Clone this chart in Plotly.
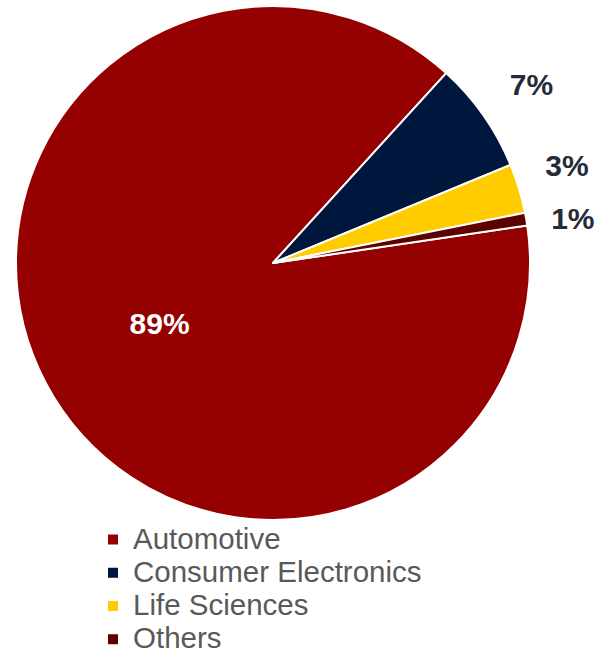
import plotly.graph_objects as go

labels = ["Automotive", "Consumer Electronics", "Life Sciences", "Others"]
values = [89.1, 7.0, 3.1, 0.8]
pct_text = ["89%", "7%", "3%", "1%"]
colors = ["#950000", "#00173D", "#FFCC00", "#5C0000"]

W, H = 598, 655
FONT = "Liberation Sans, Arial, sans-serif"
LABEL_SIZE = 30
LEGEND_SIZE = 29.5
domain = dict(x=[16 / W, 530 / W], y=[1 - 520 / H, 1 - 6 / H])
common = dict(
    values=values,
    sort=False,
    direction="clockwise",
    rotation=81.6,
    domain=domain,
    insidetextorientation="horizontal",
)

fig = go.Figure()

# visible pie with the inside label
fig.add_trace(go.Pie(
    labels=[f'<span style="font-size:{LEGEND_SIZE}px">{l}</span>' for l in labels],
    marker=dict(colors=colors, line=dict(color="white", width=2)),
    text=pct_text,
    textinfo="text",
    textposition=["inside", "none", "none", "none"],
    insidetextfont=dict(family=FONT, size=LABEL_SIZE, color="white", weight="bold"),
    hovertext=labels,
    hoverinfo="text+percent",
    showlegend=True,
    **common,
))

# outside labels, split over transparent overlays so they keep their own spot
nb = "\u00a0"
overlay_texts = [
    ["", nb + "7%<br>" + nb, "", nb + nb + "1%"],
    ["", "", nb + "3%<br>" + nb, ""],
]
for txts in overlay_texts:
    fig.add_trace(go.Pie(
        labels=labels,
        marker=dict(colors=["rgba(0,0,0,0)"] * len(labels), line=dict(width=0)),
        text=txts,
        textinfo="text",
        textposition=["outside" if t else "none" for t in txts],
        outsidetextfont=dict(family=FONT, size=LABEL_SIZE, color="#232C37", weight="bold"),
        hoverinfo="skip",
        showlegend=False,
        **common,
    ))

fig.update_layout(
    width=W, height=H,
    margin=dict(l=0, r=0, t=0, b=0, autoexpand=False),
    paper_bgcolor="white",
    plot_bgcolor="white",
    legend=dict(
        x=93 / W, xanchor="left",
        y=1 - 518 / H, yanchor="top",
        font=dict(family=FONT, size=23.23, color="#595959"),
        bgcolor="rgba(0,0,0,0)",
    ),
)

fig.write_html(
    "out.html",
    config={"displayModeBar": False},
    post_script="document.body.style.margin='0';",
)
